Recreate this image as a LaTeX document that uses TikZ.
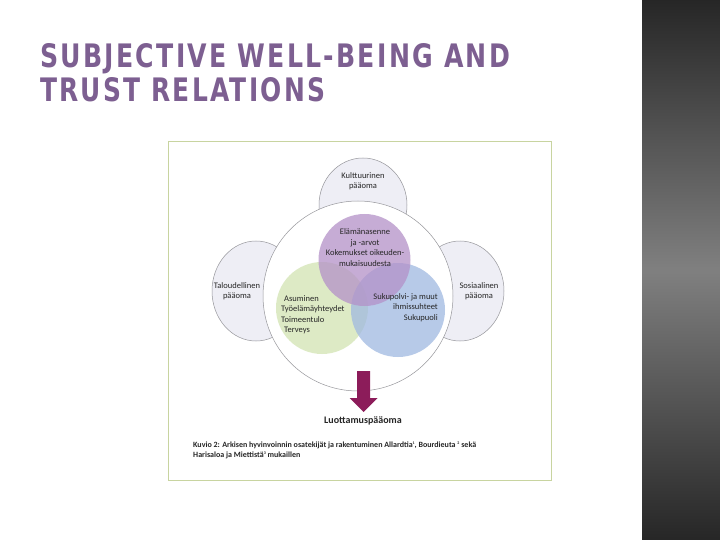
\documentclass[tikz,border=0pt]{standalone}
\usepackage{fontspec}
\setmainfont{Carlito}
\newfontfamily\titlefont[LetterSpace=9]{DejaVu Sans}
\usetikzlibrary{shapes.geometric}
\definecolor{titlecol}{RGB}{125,95,145}
\definecolor{sidefill}{RGB}{238,238,245}
\definecolor{sideline}{RGB}{150,150,155}
\definecolor{purplec}{RGB}{180,145,200}
\definecolor{greenc}{RGB}{210,228,178}
\definecolor{bluec}{RGB}{160,185,225}
\definecolor{arrowc}{RGB}{140,28,90}
\definecolor{boxline}{RGB}{200,212,160}
\tikzset{
  sideshape/.style={ellipse, draw=sideline, line width=0.5pt, fill=sidefill},
  lbl/.style={font=\fontsize{8.5}{10.5}\selectfont, text=black!85, inner sep=0pt},
  venn/.style={circle, inner sep=0pt, minimum size=#1, fill opacity=0.75}
}
\begin{document}
\begin{tikzpicture}[x=1pt,y=-1pt]
\useasboundingbox (0,0) rectangle (720,540);
\fill[white] (0,0) rectangle (720,540);
% sidebar
\shade[top color=black!85, bottom color=black!85, middle color=black!50] (642,0) rectangle (720,540);
% title
\node[anchor=north west, inner sep=0pt, text=titlecol] (t1) at (40,43)
  {\resizebox{470pt}{24pt}{\titlefont\bfseries SUBJECTIVE WELL-BEING AND}};
\node[anchor=north west, inner sep=0pt, text=titlecol] (t2) at (40,77)
  {\resizebox{285pt}{24pt}{\titlefont\bfseries TRUST RELATIONS}};
% figure frame
\draw[boxline, line width=0.6pt, fill=white] (168,141) rectangle (551,480);
% side shapes
\node[sideshape, minimum width=88pt, minimum height=94pt] (kult) at (363,205) {};
\node[sideshape, minimum width=88pt, minimum height=100pt] (talo) at (256,291) {};
\node[sideshape, minimum width=88pt, minimum height=100pt] (sosi) at (460,291) {};
% big circle
\node[circle, draw=sideline, line width=0.5pt, fill=white, minimum size=190pt, inner sep=0pt] (big) at (358,296) {};
% venn circles
\node[venn=92pt, fill=greenc] (green) at (322,308) {};
\node[venn=94pt, fill=bluec] (blue) at (398,310) {};
\node[venn=92pt, fill=purplec] (purple) at (364.5,260) {};
% labels
\node[lbl, align=center] (kultl) at (363,181) {Kulttuurinen\\pääoma};
\node[lbl, align=center] (talol) at (237,291) {Taloudellinen\\pääoma};
\node[lbl, align=center] (sosil) at (479,291) {Sosiaalinen\\pääoma};
\node[lbl, align=center] (purl) at (365,247.5) {Elämänasenne\\ja -arvot\\Kokemukset oikeuden-\\mukaisuudesta};
\node[lbl, align=left, anchor=west] (grl) at (281,315) {\hspace{3pt}Asuminen\\Työelämäyhteydet\\Toimeentulo\\\hspace{3pt}Terveys};
\node[lbl, align=right, anchor=east] (bll) at (438,307.5) {Sukupolvi- ja muut\\ihmissuhteet\\Sukupuoli};
% arrow
\fill[arrowc] (357,371) -- (370,371) -- (370,398) -- (377.5,398) -- (363.5,412) -- (349.5,398) -- (357,398) -- cycle;
\node[font=\fontsize{10}{12}\selectfont\bfseries, text=black!85, inner sep=0pt] (luot) at (363,421) {Luottamuspääoma};
% caption
\node[anchor=north west, align=left, inner sep=0pt, font=\fontsize{8}{10}\selectfont\bfseries, text=black!85] (cap) at (193,442)
  {Kuvio 2: Arkisen hyvinvoinnin osatekijät ja rakentuminen Allardtia{\fontsize{4}{4}\selectfont\raisebox{3pt}{1}}, Bourdieuta {\fontsize{4}{4}\selectfont\raisebox{3pt}{2}} sekä\\Harisaloa ja Miettistä{\fontsize{4}{4}\selectfont\raisebox{3pt}{3}} mukaillen};
\end{tikzpicture}
\end{document}
